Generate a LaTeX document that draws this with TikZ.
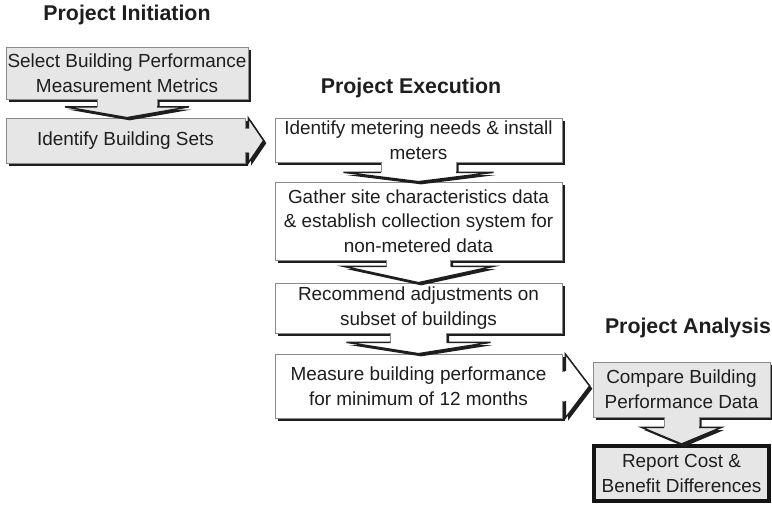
\documentclass[tikz,border=0pt]{standalone}
\usepackage{fontspec}
\setmainfont{Liberation Sans}
\usetikzlibrary{calc,shadows}

\definecolor{panelgray}{HTML}{E6E6E6}
\definecolor{rimgray}{HTML}{8A8A8A}
\definecolor{inkgray}{HTML}{1E1E1E}

% fat arrow going down out of #1 onto #2
% #3 stem half width, #4 head half width, #5 depth of the head base, #6 fill
\newcommand\flowdown[6]{%
  \path[arrowbody, fill=#6]
    ($(#1.south)+(-#3,-1)$) -- ($(#1.south)+(-#3,#5)$) -- ($(#1.south)+(-#4,#5)$)
    -- (#1.south |- #2.north) -- ($(#1.south)+(#4,#5)$) -- ($(#1.south)+(#3,#5)$)
    -- ($(#1.south)+(#3,-1)$) -- cycle;
  \draw[rim] ($(#1.south)+(-#3,0)$) -- ($(#1.south)+(-#3,#5)$);
  \draw[rim] ($(#1.south)+(#3,#5)$) -- ($(#1.south)+(#3,0)$);
  \draw[headrim] ($(#1.south)+(-#3,#5)$) -- ($(#1.south)+(-#4,#5)$)
    -- (#1.south |- #2.north) -- ($(#1.south)+(#4,#5)$) -- ($(#1.south)+(#3,#5)$);
}
% fat arrow going right out of #1 towards #2
% #3 stem half, #4 head half, #5 head base offset, #6 fill, #7 gap left before #2
\newcommand\flowright[7]{%
  \coordinate (tip) at ($(#1.east -| #2.west)+(-#7,0)$);
  \path[arrowbody, fill=#6]
    ($(#1.east)+(-1,-#3)$) -- ($(#1.east)+(#5,-#3)$) -- ($(#1.east)+(#5,-#4)$)
    -- (tip) -- ($(#1.east)+(#5,#4)$) -- ($(#1.east)+(#5,#3)$)
    -- ($(#1.east)+(-1,#3)$) -- cycle;
  \draw[rim] ($(#1.east)+(0,-#3)$) -- ($(#1.east)+(#5,-#3)$);
  \draw[rim] ($(#1.east)+(#5,#3)$) -- ($(#1.east)+(0,#3)$);
  \draw[headrim] ($(#1.east)+(#5,-#3)$) -- ($(#1.east)+(#5,-#4)$)
    -- (tip) -- ($(#1.east)+(#5,#4)$) -- ($(#1.east)+(#5,#3)$);
}

\begin{document}
\begin{tikzpicture}[
  x=0.75pt, y=-0.75pt,
  font=\fontsize{14.2}{18.5}\selectfont,
  dropped/.style={general shadow={fill=inkgray, shadow xshift=2pt, shadow yshift=-2pt}},
  box/.style={rectangle, draw=rimgray, line width=0.5pt, fill=white, inner sep=0pt,
    align=center, text=inkgray, dropped},
  greybox/.style={box, fill=panelgray},
  finalbox/.style={rectangle, draw=black!92, line width=3pt, fill=panelgray, inner sep=0pt,
    align=center, text=inkgray},
  arrowbody/.style={dropped},
  rim/.style={draw=rimgray, line width=0.5pt},
  headrim/.style={draw=inkgray, line width=1.1pt, line join=miter},
  heading/.style={font=\fontsize{16}{19}\selectfont\bfseries, text=inkgray}
]
  \useasboundingbox (0,0) rectangle (772,504);

  \node[heading] (initiation) at (127,15) {Project Initiation};
  \node[heading] (execution) at (411,88) {Project Execution};
  \node[heading] (analysis) at (688,328) {Project Analysis};

  % initiation column
  \node[greybox, minimum width=181.5pt, minimum height=39pt] (metrics) at (127,73)
    {Select Building Performance\\Measurement Metrics};
  \node[greybox, minimum width=179.25pt, minimum height=33.75pt] (sets) at (125.5,140.5)
    {Identify Building Sets};

  % execution column
  \node[box, minimum width=215.25pt, minimum height=33pt] (meters) at (418.5,140)
    {Identify metering needs \& install\\meters};
  \node[box, minimum width=215.25pt, minimum height=58.5pt] (gather) at (418.5,221)
    {Gather site characteristics data\\\& establish collection system for\\non-metered data};
  \node[box, minimum width=215.25pt, minimum height=37.5pt] (adjust) at (418.5,308)
    {Recommend adjustments on\\subset of buildings};
  \node[box, minimum width=215.25pt, minimum height=48pt] (measure) at (418.5,386)
    {Measure building performance\\for minimum of 12 months};

  % analysis column
  \node[greybox, minimum width=132.75pt, minimum height=41.25pt] (compare) at (681.5,389.5)
    {Compare Building\\Performance Data};
  \node[finalbox, minimum width=131.25pt, minimum height=41.25pt] (report) at (681.5,473.5)
    {Report Cost \&\\Benefit Differences};

  \flowdown{metrics}{sets}{30}{62}{7.5}{panelgray}
  \flowright{sets}{meters}{12}{22.5}{3}{panelgray}{11}
  \flowdown{meters}{gather}{37.5}{75}{10}{white}
  \flowdown{gather}{adjust}{32}{75}{6}{white}
  \flowdown{adjust}{measure}{28}{72}{9}{white}
  \flowright{measure}{compare}{15}{32}{3}{white}{3}
  \flowdown{compare}{report}{17.5}{40}{10}{panelgray}
\end{tikzpicture}
\end{document}
